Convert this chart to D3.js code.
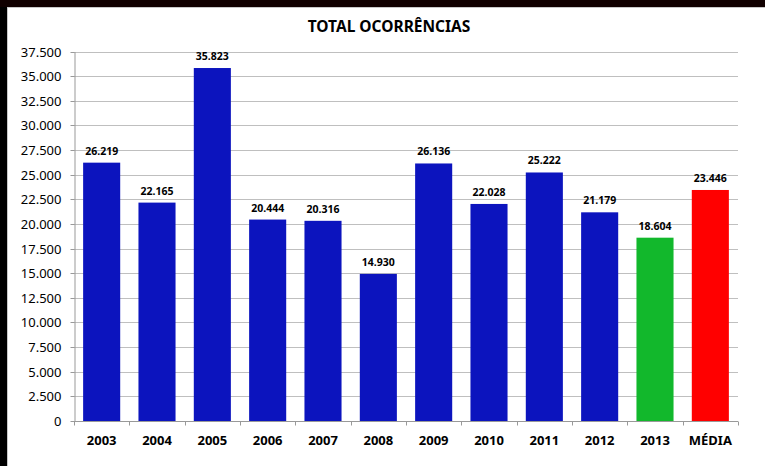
<!DOCTYPE html>
<html>
<head>
<meta charset="utf-8">
<script src="https://cdn.jsdelivr.net/npm/d3@7"></script>
<style>
  html, body { margin: 0; padding: 0; background: #000; }
  svg { display: block; }
</style>
</head>
<body>
<svg id="chart" width="765" height="466"></svg>
<script>
// Annual totals plus the average column
const categories = ["2003", "2004", "2005", "2006", "2007", "2008", "2009", "2010", "2011", "2012", "2013", "MÉDIA"];
const values = [26219, 22165, 35823, 20444, 20316, 14930, 26136, 22028, 25222, 21179, 18604, 23446];
const barColors = ["#0c14be", "#0c14be", "#0c14be", "#0c14be", "#0c14be", "#0c14be", "#0c14be", "#0c14be", "#0c14be", "#0c14be", "#12b82c", "#ff0000"];
const yTicks = [0, 2500, 5000, 7500, 10000, 12500, 15000, 17500, 20000, 22500, 25000, 27500, 30000, 32500, 35000, 37500];
const title = "TOTAL OCORRÊNCIAS";

const svg = d3.select("#chart");
const W = 765, H = 466;
const fmt = d3.formatLocale({ decimal: ",", thousands: ".", grouping: [3], currency: ["", ""] }).format(",d");

// Frame: dark edges with a white panel
svg.append("rect").attr("width", W).attr("height", H).attr("fill", "#000");
svg.append("rect").attr("x", 0).attr("y", 0).attr("width", W).attr("height", 7).attr("fill", "#100000");
svg.append("rect").attr("x", 7.5).attr("y", 7.5).attr("width", W).attr("height", H)
  .attr("fill", "#fff").attr("stroke", "#c8c8c8").attr("stroke-width", 1);

const m = { left: 74, right: 738, top: 51.5, bottom: 421 };

const x = d3.scaleBand().domain(categories).range([m.left, m.right]).paddingInner(0.33).paddingOuter(0.165);
const y = d3.scaleLinear().domain([0, 37500]).range([m.bottom, m.top]);

const font = "'Noto Sans', 'DejaVu Sans', sans-serif";

// Title
svg.append("text").attr("x", 389).attr("y", 32).attr("text-anchor", "middle")
  .attr("font-family", font).attr("font-weight", "bold").attr("font-size", 15.5)
  .attr("fill", "#000").text(title);

// Horizontal gridlines
svg.append("g").selectAll("line").data(yTicks.slice(1)).join("line")
  .attr("x1", m.left).attr("x2", m.right)
  .attr("y1", d => Math.round(y(d)) + 0.5).attr("y2", d => Math.round(y(d)) + 0.5)
  .attr("stroke", "#bfbfbf").attr("stroke-width", 1.2);

// Y axis
const yAxis = svg.append("g").attr("transform", `translate(${m.left + 0.5},0)`)
  .call(d3.axisLeft(y).tickValues(yTicks).tickFormat(fmt).tickSize(4).tickSizeOuter(0).tickPadding(9));
yAxis.select(".domain").attr("stroke", "#999");
yAxis.selectAll(".tick line").attr("stroke", "#999");
yAxis.selectAll(".tick").attr("transform", d => `translate(0,${Math.round(y(d)) + 0.5})`);
yAxis.selectAll("text").attr("font-family", font).attr("font-size", 13).attr("fill", "#000");

// Bars
svg.append("g").selectAll("rect").data(values).join("rect")
  .attr("x", (d, i) => x(categories[i]))
  .attr("width", x.bandwidth())
  .attr("y", d => y(d))
  .attr("height", d => y(0) - y(d))
  .attr("fill", (d, i) => barColors[i]);

// Value labels above bars
svg.append("g").selectAll("text").data(values).join("text")
  .attr("x", (d, i) => x(categories[i]) + x.bandwidth() / 2)
  .attr("y", d => y(d) - 8)
  .attr("text-anchor", "middle")
  .attr("font-family", font).attr("font-weight", "bold").attr("font-size", 10.5)
  .attr("fill", "#000")
  .text(d => fmt(d));

// X axis with ticks on category boundaries
const xAxisG = svg.append("g").attr("transform", `translate(0,${m.bottom + 0.5})`);
xAxisG.append("line").attr("x1", m.left).attr("x2", m.right).attr("stroke", "#999");
const bounds = d3.range(categories.length + 1).map(i => m.left + i * (m.right - m.left) / categories.length);
xAxisG.selectAll("line.tk").data(bounds).join("line").attr("class", "tk")
  .attr("x1", d => Math.round(d) + 0.5).attr("x2", d => Math.round(d) + 0.5)
  .attr("y1", 0).attr("y2", 4).attr("stroke", "#999");
xAxisG.selectAll("text").data(categories).join("text")
  .attr("x", d => x(d) + x.bandwidth() / 2)
  .attr("y", 23)
  .attr("text-anchor", "middle")
  .attr("font-family", font).attr("font-weight", "bold").attr("font-size", 13)
  .attr("fill", "#000")
  .text(d => d);
</script>
</body>
</html>
